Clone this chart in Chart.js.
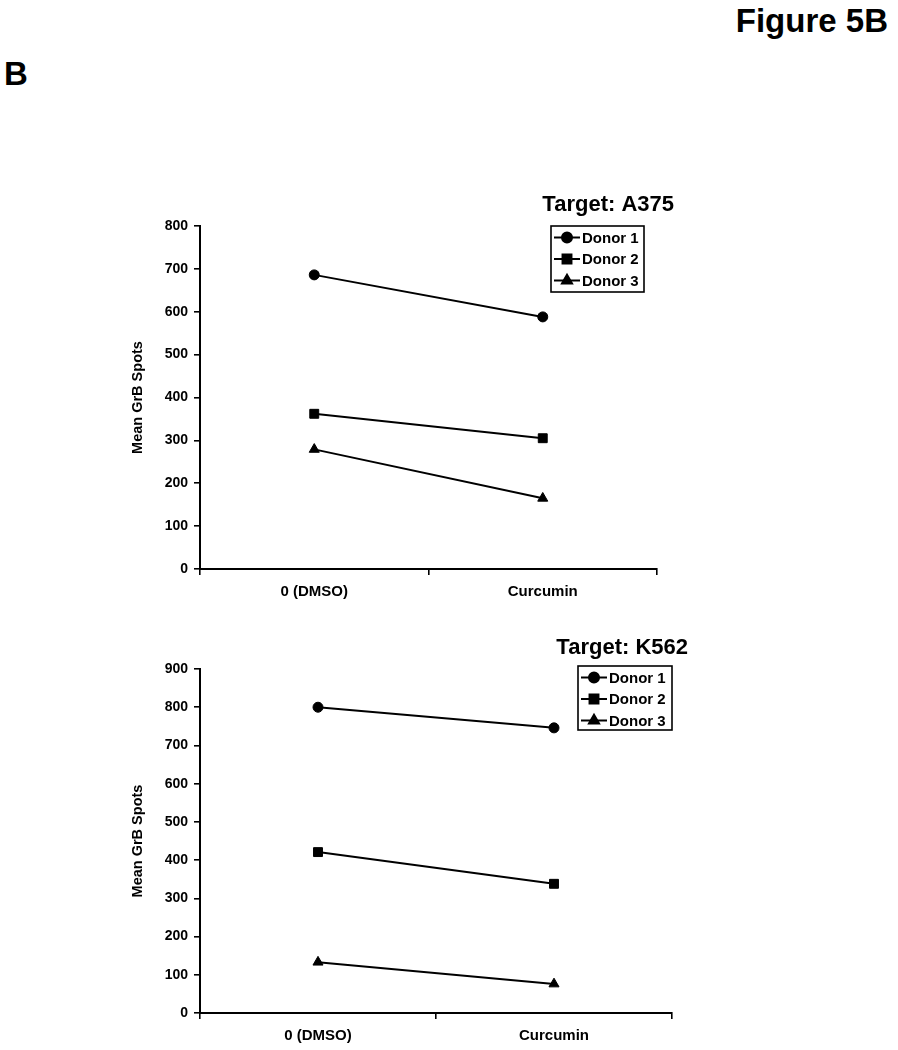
<!DOCTYPE html>
<html>
<head>
<meta charset="utf-8">
<script src="https://cdn.jsdelivr.net/npm/chart.js"></script>
<style>
  body { margin: 0; background: #fff; font-family: "Liberation Sans", Arial, sans-serif; }
  #page { position: relative; width: 898px; height: 1050px; overflow: hidden; }
  .lbl { position: absolute; font-weight: bold; color: #000; line-height: 1; }
  canvas { position: absolute; }
</style>
</head>
<body>
<div id="page">
  <div class="lbl" style="right:10px; top:4px; font-size:33px;">Figure 5B</div>
  <div class="lbl" style="left:4px; top:57px; font-size:33px;">B</div>
  <canvas id="chartA375" width="580" height="420" style="left:100px; top:190px;"></canvas>
  <canvas id="chartK562" width="600" height="420" style="left:100px; top:630px;"></canvas>
</div>
<script>
var categories = ["0 (DMSO)", "Curcumin"];
var donors = ["Donor 1", "Donor 2", "Donor 3"];
var markers = ["circle", "rect", "triangle"];

var a375Donor1 = [686, 588];
var a375Donor2 = [362, 305];
var a375Donor3 = [279, 165];

var k562Donor1 = [800, 746];
var k562Donor2 = [421, 338];
var k562Donor3 = [133, 76];

var FONT = '"Liberation Sans", Arial, sans-serif';

// title + boxed legend drawn inside the plot, like the original figure
var boxLegend = {
  id: 'boxLegend',
  afterDraw: function(chart, args, opts) {
    var ctx = chart.ctx;
    ctx.save();
    ctx.fillStyle = '#000';
    ctx.font = 'bold 22px ' + FONT;
    ctx.textAlign = 'right';
    ctx.textBaseline = 'middle';
    ctx.fillText(opts.title, opts.titleX, opts.titleY);

    var b = opts.box;
    ctx.strokeStyle = '#000';
    ctx.lineWidth = 1.6;
    ctx.strokeRect(b.x, b.y, b.w, b.h);

    ctx.font = 'bold 15px ' + FONT;
    ctx.textAlign = 'left';
    chart.data.datasets.forEach(function(ds, i) {
      var y = b.y + 11.5 + i * 21.5;
      ctx.beginPath();
      ctx.lineWidth = ds.borderWidth;
      ctx.moveTo(b.x + 3, y);
      ctx.lineTo(b.x + 29, y);
      ctx.stroke();
      Chart.helpers.drawPoint(ctx, {
        pointStyle: ds.pointStyle,
        radius: ds.pointRadius,
        rotation: 0,
        borderWidth: 1
      }, b.x + 16, y);
      ctx.fillStyle = '#000';
      ctx.fill();
      ctx.fillText(ds.label, b.x + 31, y + 1);
    });
    ctx.restore();
  }
};

var radii = [5, 6.3, 5.8];

function makeChart(id, series, yMax, pad, xHeight, legendOpts) {
  var datasets = series.map(function(values, i) {
    return {
      label: donors[i],
      data: values,
      borderColor: '#000',
      backgroundColor: '#000',
      borderWidth: 2,
      pointStyle: markers[i],
      pointRadius: radii[i],
      pointBorderWidth: 1
    };
  });
  return new Chart(document.getElementById(id), {
    type: 'line',
    data: { labels: categories, datasets: datasets },
    plugins: [boxLegend],
    options: {
      responsive: false,
      animation: false,
      devicePixelRatio: 1,
      layout: { padding: pad },
      plugins: {
        legend: { display: false },
        title: { display: false },
        tooltip: { enabled: false },
        boxLegend: legendOpts
      },
      scales: {
        x: {
          offset: true,
          afterFit: function(s) { s.height = xHeight; },
          grid: { offset: true, drawOnChartArea: false, drawTicks: true, tickLength: 6, color: '#000', lineWidth: 1.6 },
          border: { color: '#000', width: 2 },
          ticks: { color: '#000', padding: 8, font: { family: FONT, size: 15, weight: 'bold' } }
        },
        y: {
          min: 0,
          max: yMax,
          afterFit: function(s) { s.width = 100; },
          grid: { drawOnChartArea: false, drawTicks: true, tickLength: 6, color: '#000', lineWidth: 1.6 },
          border: { color: '#000', width: 2 },
          ticks: { stepSize: 100, color: '#000', padding: 6, font: { family: FONT, size: 14, weight: 'bold' } },
          title: {
            display: true,
            text: 'Mean GrB Spots',
            color: '#000',
            padding: { top: 29, bottom: 0 },
            font: { family: FONT, size: 14.5, weight: 'bold' }
          }
        }
      }
    }
  });
}

makeChart('chartA375', [a375Donor1, a375Donor2, a375Donor3], 800,
  { top: 36, right: 23, bottom: 0, left: 0 }, 41,
  { title: 'Target: A375', titleX: 574, titleY: 15, box: { x: 451, y: 36, w: 93, h: 66 } });

makeChart('chartK562', [k562Donor1, k562Donor2, k562Donor3], 900,
  { top: 39, right: 28, bottom: 0, left: 0 }, 37,
  { title: 'Target: K562', titleX: 588, titleY: 18, box: { x: 478, y: 36, w: 94, h: 64 } });
</script>
</body>
</html>
